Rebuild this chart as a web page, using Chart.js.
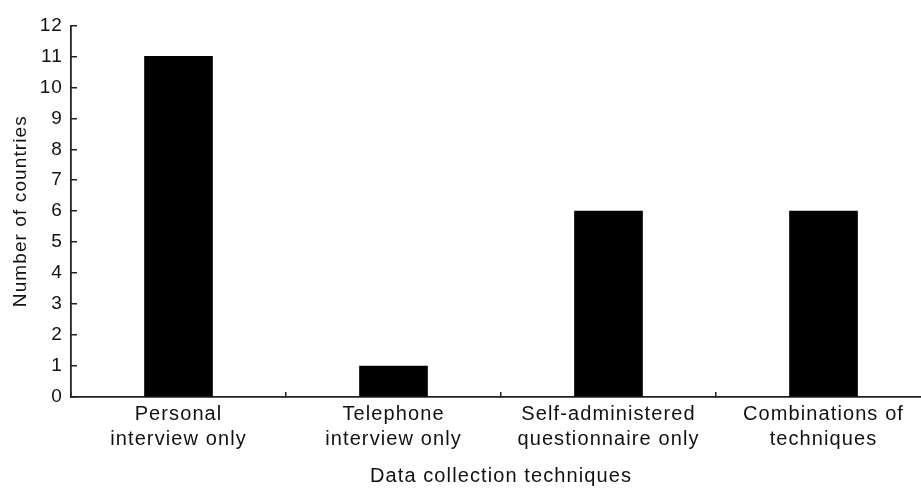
<!DOCTYPE html>
<html>
<head>
<meta charset="utf-8">
<script src="https://cdn.jsdelivr.net/npm/chart.js@4/dist/chart.umd.min.js"></script>
<style>
  html, body { margin: 0; padding: 0; background: #fff; overflow: hidden; }
  #wrap { width: 931px; height: 488px; }
</style>
</head>
<body>
<div id="wrap"><canvas id="myChart" width="931" height="488"></canvas></div>
<script>
// Chart data
const categories = [
  ['Personal', 'interview only'],
  ['Telephone', 'interview only'],
  ['Self-administered', 'questionnaire only'],
  ['Combinations of', 'techniques']
];
const countries = [11, 1, 6, 6];
const yTicks = [0, 1, 2, 3, 4, 5, 6, 7, 8, 9, 10, 11, 12];

const ink = '#111';
const axisColor = '#222';
Chart.defaults.font.family = '"Liberation Sans", Arial, sans-serif';
Chart.defaults.color = ink;

// the original lettering is a bit loosely tracked
const spacing = {
  id: 'spacing',
  beforeLayout: c => { c.ctx.letterSpacing = '1.1px'; },
  beforeDraw: c => { c.ctx.letterSpacing = '1.1px'; }
};

let ctx = document.getElementById('myChart').getContext('2d');
window.chart = new Chart(ctx, {
  type: 'bar',
  data: {
    labels: categories,
    datasets: [{
      data: countries,
      backgroundColor: '#000',
      borderWidth: 0,
      barThickness: 68
    }]
  },
  plugins: [spacing],
  options: {
    responsive: false,
    animation: false,
    layout: { padding: { top: 22, left: 0, right: 0, bottom: 0 } },
    plugins: {
      legend: { display: false },
      tooltip: { enabled: false }
    },
    scales: {
      x: {
        offset: true,
        grid: {
          offset: true,
          drawOnChartArea: false,
          tickLength: -5,
          color: axisColor,
          lineWidth: 1.5
        },
        border: { display: true, color: axisColor, width: 1.8 },
        ticks: { padding: 10, maxRotation: 0, font: { size: 20, lineHeight: 1.25 }, color: ink },
        title: { display: true, text: 'Data collection techniques', font: { size: 20 }, color: ink, padding: { top: 0, bottom: 0 } },
        afterFit: s => { s.height = 91; }
      },
      y: {
        min: 0,
        max: 12,
        afterBuildTicks: s => { s.ticks = yTicks.map(v => ({ value: v })); },
        grid: {
          drawOnChartArea: false,
          tickLength: -6,
          color: axisColor,
          lineWidth: 1.5
        },
        border: { display: true, color: axisColor, width: 1.8 },
        ticks: { padding: 14, font: { size: 19 }, color: ink },
        title: { display: true, text: 'Number of countries', font: { size: 19 }, color: ink, padding: { top: 9 } },
        afterFit: s => { s.width = 71; }
      }
    }
  }
});
</script>
</body>
</html>
